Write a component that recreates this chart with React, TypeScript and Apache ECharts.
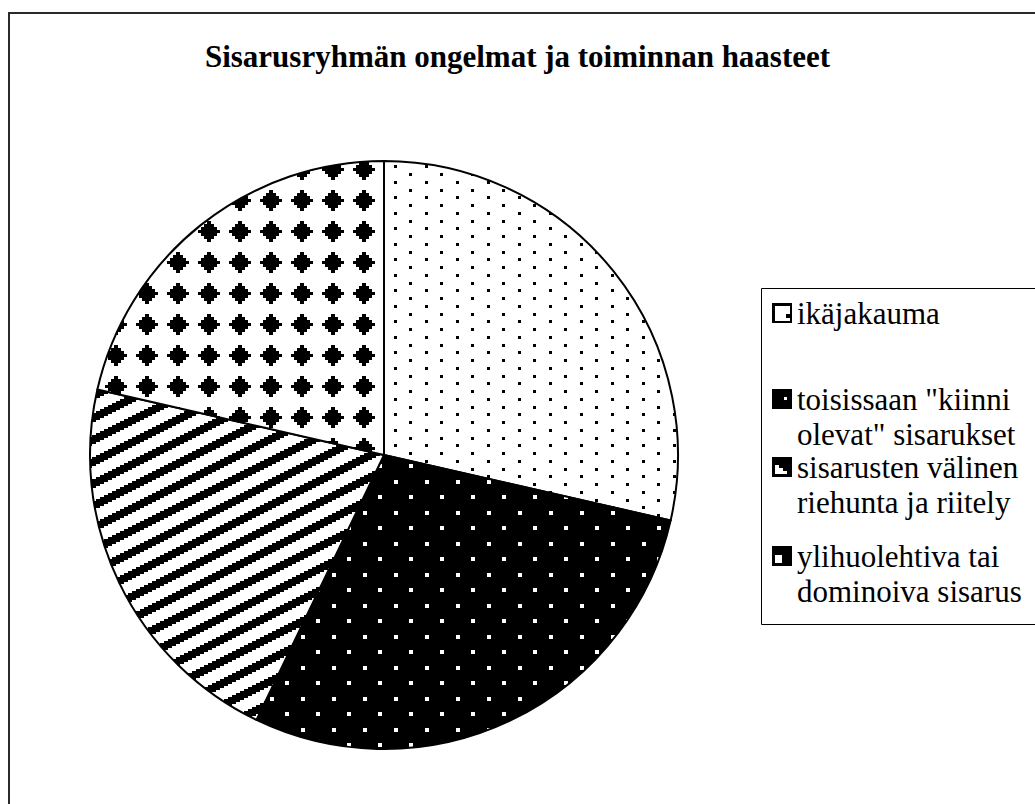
import { useEffect, useRef } from "react";
import * as echarts from "echarts";

// ---------- data ----------
const titleText = "Sisarusryhmän ongelmat ja toiminnan haasteet";
const categories = [
  "ikäjakauma",
  'toisissaan "kiinni\nolevat" sisarukset',
  "sisarusten välinen\nriehunta ja riitely",
  "ylihuolehtiva tai\ndominoiva sisarus",
];
const values = [4, 4, 3, 3];

// ---------- layout / style ----------
const FONT = "Liberation Serif";
// vertical centre of the first text line of each legend entry
const legendLineCenters = [313, 399, 467, 556];

function makeCanvas(w: number, h: number) {
  const c = document.createElement("canvas");
  c.width = w;
  c.height = h;
  return c;
}

function fillWrap(ctx: CanvasRenderingContext2D, x: number, y: number, w: number, h: number, T: number, U: number) {
  for (const dx of [-T, 0, T]) for (const dy of [-U, 0, U]) ctx.fillRect(x + dx, y + dy, w, h);
}

// white with sparse black dots
function patternDots() {
  const T = 31;
  const c = makeCanvas(T, T);
  const ctx = c.getContext("2d")!;
  ctx.fillStyle = "#fff";
  ctx.fillRect(0, 0, T, T);
  ctx.fillStyle = "#000";
  const pts = [
    [23, 11.7],
    [23, 27.2],
    [7.6, 19.8],
    [7.6, 4.3],
  ];
  for (const [x, y] of pts) fillWrap(ctx, Math.round(x - 1.5), Math.round(y - 1.5), 3, 3, T, T);
  return c;
}

// black with white dots
function patternWhiteDots() {
  const T = 31;
  const c = makeCanvas(T, T);
  const ctx = c.getContext("2d")!;
  ctx.fillStyle = "#000";
  ctx.fillRect(0, 0, T, T);
  ctx.fillStyle = "#fff";
  const pts = [
    [8, 1],
    [23.5, 16.5],
  ];
  for (const [x, y] of pts) fillWrap(ctx, Math.round(x - 2), Math.round(y - 2), 4, 4, T, T);
  return c;
}

// diagonal stripes
function patternStripes() {
  const W = 44;
  const H = 22;
  const c = makeCanvas(W, H);
  const ctx = c.getContext("2d")!;
  ctx.fillStyle = "#fff";
  ctx.fillRect(0, 0, W, H);
  ctx.fillStyle = "#000";
  for (let i = 0; i < W; i++) {
    for (let j = 0; j < H; j++) {
      const v = (j + 2 * Math.floor(i / 4) + 3) % 22;
      if (v < 9) ctx.fillRect(i, j, 1, 1);
    }
  }
  return c;
}

// white with black stepped diamonds
function patternDiamonds() {
  const T = 31;
  const c = makeCanvas(T, T);
  const ctx = c.getContext("2d")!;
  ctx.fillStyle = "#fff";
  ctx.fillRect(0, 0, T, T);
  ctx.fillStyle = "#000";
  const cx = 22.5;
  const cy = 14.5;
  const widths = [4, 10, 16, 22, 16, 10, 4];
  const rh = 3;
  const top = cy - (widths.length * rh) / 2;
  widths.forEach((w, k) => {
    fillWrap(ctx, Math.round(cx - w / 2), Math.round(top + k * rh), w, rh, T, T);
  });
  return c;
}

function legendIcon(kind: number) {
  const c = makeCanvas(20, 20);
  const ctx = c.getContext("2d")!;
  ctx.fillStyle = "#000";
  ctx.fillRect(0, 0, 20, 20);
  ctx.fillStyle = "#fff";
  if (kind === 0) {
    ctx.fillRect(3, 3, 15, 15);
    ctx.fillStyle = "#000";
    ctx.fillRect(14, 11, 4, 4);
  } else if (kind === 1) {
    ctx.fillRect(12, 8, 3, 3);
  } else if (kind === 2) {
    ctx.fillRect(3, 8, 4, 9);
    ctx.fillRect(7, 11, 4, 6);
    ctx.fillRect(11, 14, 4, 3);
  } else {
    ctx.fillRect(3, 9, 7, 8);
  }
  return c.toDataURL();
}

export default function App() {
  const ref = useRef<HTMLDivElement>(null);

  useEffect(() => {
    if (!ref.current) return;
    const chart = echarts.init(ref.current, null, { renderer: "svg" });

    const tiles = [patternDots(), patternWhiteDots(), patternStripes(), patternDiamonds()];
    const fills = tiles.map((t) => ({
      image: t,
      repeat: "repeat",
      imageWidth: t.width,
      imageHeight: t.height,
    }));

    const legendElements: any[] = [];
    categories.forEach((name, i) => {
      const c = legendLineCenters[i];
      legendElements.push({
        type: "image",
        silent: true,
        style: { image: legendIcon(i), x: 772, y: c - 10, width: 20, height: 20 },
      });
      legendElements.push({
        type: "text",
        silent: true,
        x: 797,
        y: c - 17.5,
        style: {
          text: name,
          fontFamily: FONT,
          fontSize: 31,
          lineHeight: 35,
          fill: "#000",
          verticalAlign: "top",
          align: "left",
        },
      });
    });

    const option: any = {
      animation: false,
      backgroundColor: "#fff",
      title: {
        text: titleText,
        left: "center",
        top: 38,
        padding: 0,
        textStyle: {
          fontFamily: FONT,
          fontWeight: "bold",
          fontSize: 31,
          lineHeight: 36,
          color: "#000",
        },
      },
      graphic: [
        {
          type: "rect",
          silent: true,
          shape: { x: 9, y: 13, width: 1200, height: 1000 },
          style: { fill: "none", stroke: "#2a2a2a", lineWidth: 2 },
        },
        {
          type: "rect",
          silent: true,
          shape: { x: 761.5, y: 288.5, width: 400, height: 336 },
          style: { fill: "none", stroke: "#000", lineWidth: 1 },
        },
        ...legendElements,
      ],
      series: [
        {
          type: "pie",
          center: [384, 455],
          radius: 294,
          startAngle: 90,
          clockwise: true,
          label: { show: false },
          labelLine: { show: false },
          emphasis: { disabled: true },
          itemStyle: { borderColor: "#000", borderWidth: 2 },
          data: categories.map((name, i) => ({
            name,
            value: values[i],
            itemStyle: { color: fills[i] },
          })),
        },
      ],
    };

    chart.setOption(option);
    return () => chart.dispose();
  }, []);

  return (
    <div
      ref={ref}
      style={{ position: "absolute", left: 0, top: 0, width: 1035, height: 804 }}
    />
  );
}
